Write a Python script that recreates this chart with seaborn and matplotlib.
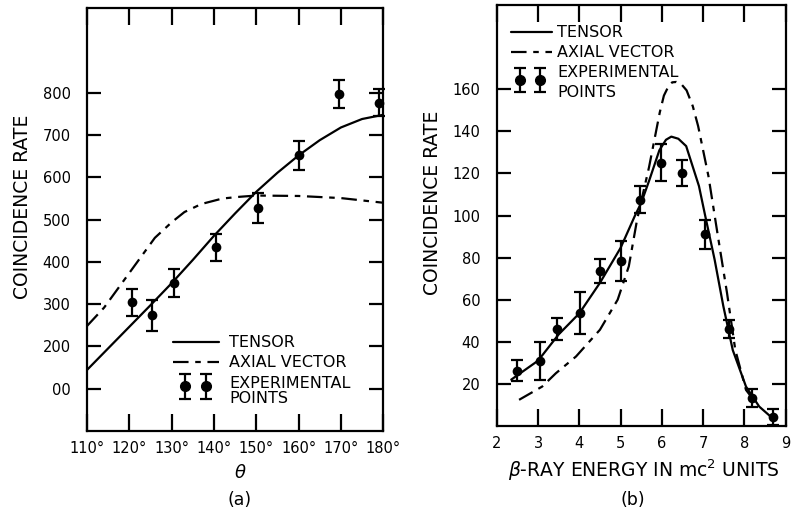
import numpy as np
import pandas as pd
import matplotlib
matplotlib.use("Agg")
import matplotlib.pyplot as plt
import seaborn as sns

# ---- panel (a): coincidence rate vs angle ----
theta_pts = [120.5, 125.3, 130.5, 140.5, 150.5, 160.0, 169.5, 179.0]
rate_pts = [305, 274, 350, 435, 528, 652, 797, 776]
rate_err = [32, 37, 34, 32, 35, 35, 33, 32]

theta_tensor = [110, 115, 120, 125, 130, 135, 140, 145, 150, 155, 160, 165, 170, 175, 180]
rate_tensor = [145, 196, 247, 298, 350, 405, 462, 515, 566, 611, 652, 688, 718, 738, 748]

theta_axial = [110, 114, 118, 122, 126, 130, 133, 137, 142, 146, 150, 160, 170, 180]
rate_axial = [249, 292, 347, 402, 457, 494, 518, 537, 550, 554, 557, 556, 551, 540]

a_xticks = [110, 120, 130, 140, 150, 160, 170, 180]
a_xlabels = ["110°", "120°", "130°", "140°", "150°", "160°", "170°", "180°"]
a_yticks = [100, 200, 300, 400, 500, 600, 700, 800]
a_ylabels = ["00", "200", "300", "400", "500", "600", "700", "800"]

# ---- panel (b): coincidence rate vs beta energy ----
e_pts = [2.5, 3.05, 3.47, 4.02, 4.5, 5.02, 5.48, 5.98, 6.5, 7.05, 7.62, 8.18, 8.7]
b_pts = [26.2, 31.0, 46.0, 53.7, 73.5, 78.4, 107.6, 125.1, 120.3, 91.0, 46.2, 13.2, 4.1]
b_err = [5.0, 9.0, 5.2, 9.8, 5.7, 9.7, 6.6, 8.8, 6.1, 7.0, 4.2, 4.3, 3.8]

e_tensor = [2.35, 3.0, 3.5, 4.0, 4.5, 5.0, 5.35, 5.5, 5.7, 5.94, 6.1, 6.23, 6.4,
            6.59, 6.9, 7.05, 7.28, 7.49, 7.72, 8.04, 8.36, 8.68]
b_tensor = [22, 31, 43.5, 53.5, 68, 84.6, 100, 106, 117, 131, 136, 137.5, 136.5,
            133, 114, 100, 79, 57, 36, 18.7, 9.2, 3.7]

e_axial = [2.54, 3.1, 3.43, 3.92, 4.5, 4.93, 5.2, 5.4, 5.55, 5.69, 5.8, 5.95, 6.05,
           6.15, 6.25, 6.35, 6.47, 6.6, 6.75, 6.88, 7.13, 7.36, 7.58, 7.78, 8.04, 8.2]
b_axial = [12.4, 18.7, 25, 33, 45.7, 60, 75.9, 98, 111, 123, 134, 149, 157,
           161, 163.3, 163.5, 162.5, 159.5, 152, 142.5, 118.7, 90.1, 63.2, 36.2, 17.1, 13]

b_xticks = [2, 3, 4, 5, 6, 7, 8, 9]
b_yticks = [20, 40, 60, 80, 100, 120, 140, 160]

sns.set_style("ticks")
plt.rcParams["font.family"] = ["DejaVu Sans"]
plt.rcParams["mathtext.fontset"] = "dejavusans"
plt.rcParams["text.color"] = "black"
plt.rcParams["axes.labelcolor"] = "black"

LW = 1.6
DASHDOT = (0, (7, 3, 2.5, 3))

fig = plt.figure(figsize=(8, 5.15), dpi=100)
ax1 = fig.add_axes([0.109, 0.163, 0.37, 0.821])
ax2 = fig.add_axes([0.621, 0.173, 0.361, 0.817])


def style_axes(ax):
    for s in ax.spines.values():
        s.set_linewidth(LW)
        s.set_color("black")
    ax.tick_params(axis="both", which="major", direction="in", top=True, right=True,
                   width=LW, color="black", labelsize=10.5, labelcolor="black")
    ax.tick_params(axis="x", length=12, pad=7)
    ax.tick_params(axis="y", length=10, pad=12)


def draw_points(ax, x, y, err, ms=7):
    ax.errorbar(x, y, yerr=err, fmt="none", ecolor="black", elinewidth=LW,
                capsize=4, capthick=LW, clip_on=False, zorder=3)
    sns.scatterplot(x=x, y=y, ax=ax, color="black", s=ms ** 2, edgecolor="black",
                    linewidth=0, zorder=4, clip_on=False, legend=False)


def legend_block(ax, x_line, x_text, y_rows, x_marks, y_mark, bar_h):
    t = ax.transAxes
    ax.plot(x_line, [y_rows[0]] * 2, transform=t, color="black", lw=LW, clip_on=False)
    ax.plot(x_line, [y_rows[1]] * 2, transform=t, color="black", lw=LW,
            linestyle=DASHDOT, clip_on=False)
    for xm in x_marks:
        ax.plot([xm, xm], [y_mark - bar_h, y_mark + bar_h], transform=t, color="black",
                lw=LW, clip_on=False)
        ax.plot([xm, xm], [y_mark - bar_h, y_mark + bar_h], transform=t, color="black",
                linestyle="none", marker="_", ms=8, mew=LW, clip_on=False)
        ax.plot([xm], [y_mark], transform=t, color="black", marker="o", ms=7,
                linestyle="none", clip_on=False)
    kw = dict(transform=t, fontsize=11.5, va="center", ha="left")
    ax.text(x_text, y_rows[0], "TENSOR", **kw)
    ax.text(x_text, y_rows[1], "AXIAL VECTOR", **kw)
    ax.text(x_text, y_rows[2], "EXPERIMENTAL", **kw)
    ax.text(x_text, y_rows[3], "POINTS", **kw)


# panel (a)
sns.lineplot(x=theta_tensor, y=rate_tensor, ax=ax1, color="black", lw=LW,
             sort=False, estimator=None)
sns.lineplot(x=theta_axial, y=rate_axial, ax=ax1, color="black", lw=LW,
             linestyle=DASHDOT, sort=False, estimator=None)
draw_points(ax1, theta_pts, rate_pts, rate_err)
ax1.set_xlim(110, 180)
ax1.set_ylim(0, 1000)
ax1.set_xticks(a_xticks)
ax1.set_xticklabels(a_xlabels)
ax1.set_yticks(a_yticks)
ax1.set_yticklabels(a_ylabels)
style_axes(ax1)
ax1.set_xlabel("")
ax1.set_ylabel("COINCIDENCE RATE", fontsize=13.5)
ax1.yaxis.set_label_coords(-0.185, 0.53)
legend_block(ax1, [0.29, 0.445], 0.48, [0.21, 0.163, 0.113, 0.078],
             [0.33, 0.40], 0.106, 0.03)

# panel (b)
sns.lineplot(x=e_tensor, y=b_tensor, ax=ax2, color="black", lw=LW,
             sort=False, estimator=None)
sns.lineplot(x=e_axial, y=b_axial, ax=ax2, color="black", lw=LW,
             linestyle=DASHDOT, sort=False, estimator=None)
draw_points(ax2, e_pts, b_pts, b_err)
ax2.set_xlim(2, 9)
ax2.set_ylim(0, 200)
ax2.set_xticks(b_xticks)
ax2.set_yticks(b_yticks)
style_axes(ax2)
ax2.set_xlabel("")
ax2.set_ylabel("COINCIDENCE RATE", fontsize=13.5)
ax2.yaxis.set_label_coords(-0.19, 0.53)
legend_block(ax2, [0.05, 0.19], 0.21, [0.936, 0.888, 0.841, 0.793],
             [0.08, 0.15], 0.822, 0.028)

# axis captions
fig.text(0.30, 1 - 473 / 515, r"$\theta$", fontsize=13, ha="center", va="center")
fig.text(0.30, 1 - 500 / 515, "(a)", fontsize=12.5, ha="center", va="center")
fig.text(0.805, 1 - 470 / 515, r"$\beta$-RAY ENERGY IN mc$^{2}$ UNITS", fontsize=13.5,
         ha="center", va="center")
fig.text(0.791, 1 - 500 / 515, "(b)", fontsize=12.5, ha="center", va="center")

fig.savefig("out.png", dpi=100)
plt.close(fig)
